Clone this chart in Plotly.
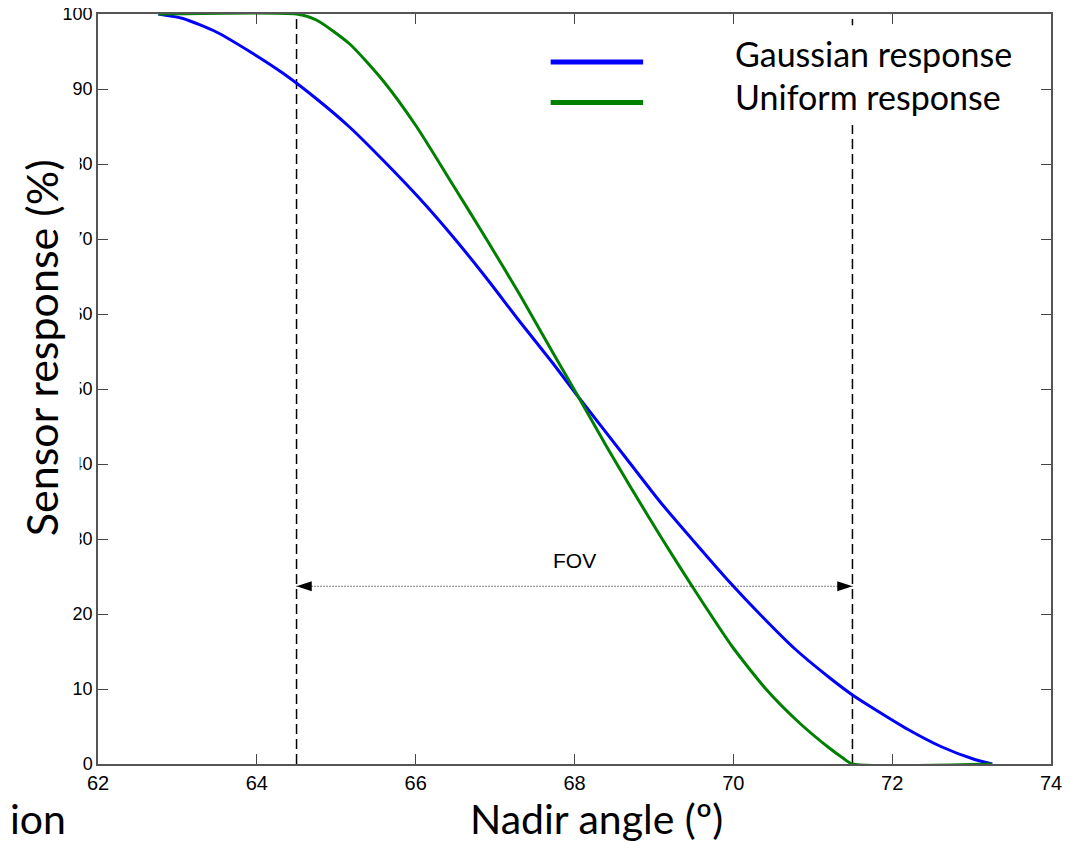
import plotly.graph_objects as go

# ---- data ----
gauss_x = [62.76, 63.07, 63.49, 63.91, 64.33, 64.75, 65.17, 65.59, 66.05, 66.47, 66.89, 67.31,
           67.73, 68.03, 68.67, 69.09, 69.51, 69.94, 70.35, 70.77, 71.2, 71.5, 71.78, 72.2,
           72.62, 73.04, 73.26]
gauss_y = [100, 99.4, 97.6, 95.0, 92.1, 88.7, 84.9, 80.5, 75.4, 70.3, 64.8, 59.0,
           53.4, 49.2, 40.5, 34.8, 29.6, 24.4, 19.8, 15.4, 11.6, 9.2, 7.3, 4.6,
           2.3, 0.6, 0]

unif_x = [62.76, 64.5, 64.75, 65.17, 65.59, 66.01, 66.47, 66.89, 67.31, 67.73, 68.03, 68.4,
          68.69, 69.11, 69.53, 69.99, 70.41, 70.83, 71.2, 71.38, 71.5, 73.26]
unif_y = [100, 100, 99.2, 96.0, 91.1, 85.0, 77.2, 70.0, 62.6, 54.8, 49.3, 42.4,
          37.2, 29.9, 22.9, 15.6, 10.0, 5.5, 2.2, 0.8, 0, 0]

fov_edges = [64.5, 71.5]
fov_level = 23.7
fov_label = "FOV"

x_ticks = [62, 64, 66, 68, 70, 72, 74]
y_ticks = [0, 10, 20, 30, 40, 50, 60, 70, 80, 90, 100]

series_names = ["Gaussian response", "Uniform response"]
series_colors = ["#0000ff", "#008000"]

fig = go.Figure()

# FOV boundary dashed lines
for xe in fov_edges:
    fig.add_trace(go.Scatter(x=[xe, xe], y=[0, 100], mode="lines",
                             line=dict(color="black", width=1.5, dash="10px,5px"),
                             showlegend=False, hoverinfo="skip"))

# curves
fig.add_trace(go.Scatter(x=gauss_x, y=gauss_y, mode="lines", name=series_names[0],
                         line=dict(color=series_colors[0], width=3, shape="spline", smoothing=0.6),
                         showlegend=False))
fig.add_trace(go.Scatter(x=unif_x, y=unif_y, mode="lines", name=series_names[1],
                         line=dict(color=series_colors[1], width=3, shape="spline", smoothing=0.6),
                         showlegend=False))

# FOV dotted double arrow
fig.add_trace(go.Scatter(x=fov_edges, y=[fov_level, fov_level], mode="lines+markers",
                         line=dict(color="black", width=1.2, dash="1px,2px"),
                         marker=dict(symbol="arrow", size=16, color="black", angle=[270, 90],
                                     line=dict(width=0)),
                         showlegend=False, hoverinfo="skip"))

fig.add_annotation(x=68, y=27.2, xref="x", yref="y", text=fov_label,
                   showarrow=False, font=dict(family="Liberation Sans, Arial", size=21, color="black"))

# ---- white overlay (slide text box over the top-right of the chart) ----
fig.add_shape(type="rect", xref="x", yref="y", x0=67.38, x1=73.86, y0=85.2, y1=98.5,
              fillcolor="white", line=dict(width=0), layer="above")

# legend (slide-style)
legend_line_y = [0.936, 0.882]
legend_text_y = [0.948, 0.89]
for i in range(2):
    fig.add_shape(type="line", xref="paper", yref="paper", x0=0.475, x1=0.572,
                  y0=legend_line_y[i], y1=legend_line_y[i],
                  line=dict(color=series_colors[i], width=5), layer="above")
    fig.add_annotation(x=0.666, y=legend_text_y[i], xref="paper", yref="paper",
                       text=series_names[i], showarrow=False, xanchor="left", yanchor="middle",
                       font=dict(family="Lato, Open Sans, sans-serif", size=34, color="black"))

# axis titles (slide overlays; the y title box hides part of the tick labels)
fig.add_annotation(x=-0.0598, y=0.555, xref="paper", yref="paper", text="Sensor response (%)",
                   textangle=-90, showarrow=False, xanchor="center", yanchor="middle",
                   width=470, height=76, bgcolor="white", borderpad=0,
                   font=dict(family="Lato, Open Sans, sans-serif", size=43, color="black"))
fig.add_annotation(x=0.5226, y=-0.072, xref="paper", yref="paper", text="Nadir angle (º)",
                   showarrow=False, xanchor="center", yanchor="middle",
                   font=dict(family="Lato, Open Sans, sans-serif", size=41, color="black"))
fig.add_annotation(x=-0.0315, y=-0.072, xref="paper", yref="paper", text="ion",
                   showarrow=False, xanchor="right", yanchor="middle",
                   font=dict(family="Lato, Open Sans, sans-serif", size=41, color="black"))

axis_common = dict(showgrid=False, zeroline=False, showline=True, linecolor="#555555",
                   linewidth=1.5, mirror="ticks", ticks="inside", ticklen=10,
                   tickcolor="#444444", tickwidth=1, automargin=False,
                   ticklabeloverflow="allow")

fig.update_xaxes(range=[62, 74], tickvals=x_ticks, ticktext=[str(v) for v in x_ticks],
                 tickfont=dict(family="Liberation Sans Narrow, Arial Narrow, sans-serif",
                               size=20, color="black"), **axis_common)
fig.update_yaxes(range=[0, 100], tickvals=y_ticks, ticktext=[str(v) for v in y_ticks],
                 tickfont=dict(family="Liberation Sans, Arial, sans-serif", size=18, color="black"),
                 **axis_common)

# the page body adds an 8px offset, so margins are shifted accordingly
fig.update_layout(width=1086, height=862, plot_bgcolor="white", paper_bgcolor="white",
                  margin=dict(l=90, r=43, t=6, b=106), showlegend=False)

fig.write_html("out.html")
